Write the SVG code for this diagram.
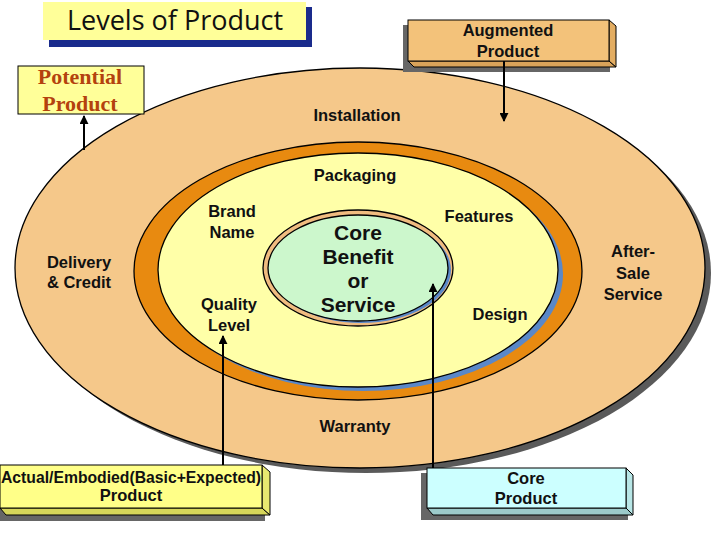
<svg xmlns="http://www.w3.org/2000/svg" width="720" height="540" viewBox="0 0 720 540">
<defs>
<style>
.lbl{font-family:"Liberation Sans",Arial,sans-serif;font-weight:bold;font-size:16.5px;fill:#111;text-anchor:middle}
.core{font-family:"Liberation Sans",Arial,sans-serif;font-weight:bold;font-size:21px;fill:#111;text-anchor:middle}
.ln{stroke:#000;stroke-width:2;fill:none}
.edge{stroke:#000;stroke-width:1.3}
.pot{font-family:"Liberation Serif","Times New Roman",serif;font-weight:bold;font-size:22px;fill:#b4420e;text-anchor:middle}
</style>
<marker id="ah" viewBox="0 0 10 10" refX="9" refY="5" markerWidth="4.5" markerHeight="4.5" orient="auto">
<path d="M0,0 L10,5 L0,10 z" fill="#000"/>
</marker>
</defs>
<rect width="720" height="540" fill="#fff"/>

<g id="title">
<rect x="49" y="7" width="263" height="40" fill="#1a2b8c"/>
<rect x="43" y="2" width="263" height="38" fill="#ffff99"/>
<text x="175" y="30" font-family="'Open Sans','Liberation Sans',sans-serif" font-size="27" fill="#111" text-anchor="middle">Levels of Product</text>
</g>

<g id="outer-ring">
<ellipse cx="366" cy="273" rx="345" ry="200" fill="#5a5a5a"/>
<ellipse cx="360" cy="268" rx="345" ry="200" fill="#f5c88a" class="edge"/>
</g>

<g id="middle-ring">
<ellipse cx="358" cy="271" rx="224" ry="129" fill="#e88a10" class="edge"/>
<ellipse cx="363" cy="274" rx="200" ry="117" fill="#5a88c8"/>
<ellipse cx="358" cy="270" rx="200" ry="117" fill="#ffffa8" class="edge"/>
</g>

<g id="core-ring">
<ellipse cx="358" cy="268" rx="95" ry="58" fill="#f0bc80" class="edge"/>
<ellipse cx="361" cy="270" rx="90" ry="53" fill="#5a88c8"/>
<ellipse cx="358" cy="268" rx="90" ry="53" fill="#ccf7cc" class="edge"/>
</g>

<g id="potential">
<rect x="18" y="66" width="126" height="48" fill="#ffff99" stroke="#000" stroke-width="1"/>
<text class="pot" x="80" y="84">Potential</text>
<text class="pot" x="80" y="111">Product</text>
</g>

<g id="augmented">
<rect x="403" y="25" width="207" height="47" fill="#666"/>
<polygon points="408,61 609,61 616,67 414,67" fill="#d9a35a" stroke="#000" stroke-width="1"/>
<polygon points="609,20 616,26 616,67 609,61" fill="#e3ad62" stroke="#000" stroke-width="1"/>
<rect x="408" y="20" width="201" height="41" fill="#f3c27a" stroke="#000" stroke-width="1"/>
<text class="lbl" x="508" y="36" font-size="16">Augmented</text>
<text class="lbl" x="508" y="57" font-size="16">Product</text>
</g>

<g id="actual">
<rect x="-2" y="470" width="267" height="51" fill="#666"/>
<polygon points="0,508 262,508 270,515 6,515" fill="#d6d65a" stroke="#000" stroke-width="1"/>
<polygon points="262,465 270,472 270,515 262,508" fill="#e8e870" stroke="#000" stroke-width="1"/>
<rect x="0" y="465" width="262" height="43" fill="#ffff88" stroke="#000" stroke-width="1"/>
<text class="lbl" x="131" y="483" font-size="14.5" textLength="260" lengthAdjust="spacingAndGlyphs">Actual/Embodied(Basic+Expected)</text>
<text class="lbl" x="131" y="501" font-size="14.5">Product</text>
</g>

<g id="core-product">
<rect x="421" y="473" width="207" height="47" fill="#666"/>
<polygon points="427,508 626,508 633,515 433,515" fill="#9ccaca" stroke="#000" stroke-width="1"/>
<polygon points="626,468 633,475 633,515 626,508" fill="#b8e6e6" stroke="#000" stroke-width="1"/>
<rect x="427" y="468" width="199" height="40" fill="#ccffff" stroke="#000" stroke-width="1"/>
<text class="lbl" x="526" y="484" font-size="16">Core</text>
<text class="lbl" x="526" y="504" font-size="16">Product</text>
</g>

<g id="labels">
<text class="lbl" x="357" y="121">Installation</text>
<text class="lbl" x="355" y="181">Packaging</text>
<text class="lbl" x="232" y="217">Brand</text>
<text class="lbl" x="232" y="238">Name</text>
<text class="lbl" x="79" y="268">Delivery</text>
<text class="lbl" x="79" y="288">&amp; Credit</text>
<text class="lbl" x="229" y="310">Quality</text>
<text class="lbl" x="229" y="331">Level</text>
<text class="lbl" x="479" y="222">Features</text>
<text class="lbl" x="500" y="320">Design</text>
<text class="lbl" x="633" y="257">After-</text>
<text class="lbl" x="633" y="279">Sale</text>
<text class="lbl" x="633" y="300">Service</text>
<text class="lbl" x="355" y="432">Warranty</text>
<text class="core" x="358" y="240">Core</text>
<text class="core" x="358" y="264">Benefit</text>
<text class="core" x="358" y="288">or</text>
<text class="core" x="358" y="312">Service</text>
</g>

<g id="connectors">
<line class="ln" x1="84" y1="150" x2="84" y2="116" marker-end="url(#ah)"/>
<line class="ln" x1="504" y1="61" x2="504" y2="121" marker-end="url(#ah)"/>
<line class="ln" x1="223" y1="465" x2="223" y2="336" marker-end="url(#ah)"/>
<line class="ln" x1="433" y1="468" x2="433" y2="284" marker-end="url(#ah)"/>
</g>
</svg>
